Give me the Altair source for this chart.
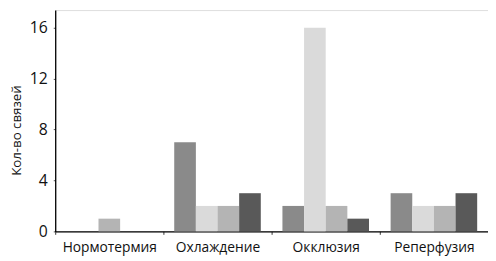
import altair as alt
import pandas as pd

groups = ["Нормотермия", "Охлаждение", "Окклюзия", "Реперфузия"]
series = ["s1", "s2", "s3", "s4"]
s1 = [0, 7, 2, 3]
s2 = [0, 2, 16, 2]
s3 = [1, 2, 2, 2]
s4 = [0, 3, 1, 3]
colors = ["#8a8a8a", "#dadada", "#b4b4b4", "#595959"]
y_ticks = [0, 2, 4, 6, 8, 10, 12, 14, 16]

rows = []
for i, g in enumerate(groups):
    for name, vals in zip(series, [s1, s2, s3, s4]):
        rows.append({"group": g, "series": name, "value": vals[i]})
df = pd.DataFrame(rows)

main = df[df["group"] != groups[0]]
single = df[(df["group"] == groups[0]) & (df["value"] > 0)]

FONT = "Open Sans"

x_enc = alt.X(
    "group:N",
    sort=groups,
    scale=alt.Scale(domain=groups, paddingInner=0, paddingOuter=0),
    axis=alt.Axis(
        title=None,
        labelAngle=0,
        labelFont=FONT,
        labelFontSize=14,
        labelColor="#111",
        labelPadding=6,
        tickBand="extent",
        tickSize=3,
        tickColor="#333",
        domainColor="#000",
        domainWidth=1.3,
    ),
)
y_enc = alt.Y(
    "value:Q",
    scale=alt.Scale(domain=[0, 17.39], nice=False, zero=True),
    axis=alt.Axis(
        title="Кол-во связей",
        values=y_ticks,
        labelExpr="datum.value % 4 == 0 ? datum.label : ''",
        labelFont=FONT,
        labelFontSize=16,
        labelColor="#111",
        labelPadding=6,
        tickSize=2,
        tickColor="#555",
        domainColor="#000",
        domainWidth=1.3,
        grid=False,
        titleFont=FONT,
        titleFontSize=13.5,
        titleFontWeight="normal",
        titleColor="#111",
        titleX=-46,
        titleY=122,
        titleAngle=-90,
        titleAlign="center",
        titleBaseline="top",
    ),
)

bars = alt.Chart(main).mark_bar().encode(
    x=x_enc,
    xOffset=alt.XOffset("series:N", sort=series,
                        scale=alt.Scale(domain=series, paddingInner=0, paddingOuter=0.5)),
    y=y_enc,
    color=alt.Color("series:N", scale=alt.Scale(domain=series, range=colors), legend=None),
)

single_bar = alt.Chart(single).mark_bar(size=22).encode(
    x=alt.X("group:N", sort=groups, scale=alt.Scale(domain=groups)),
    y=alt.Y("value:Q"),
    color=alt.Color("series:N", legend=None),
)

chart = (
    alt.layer(bars, single_bar)
    .properties(
        width=440,
        height=225,
        padding={"left": 48, "top": 0, "right": 0, "bottom": 28},
        autosize=alt.AutoSizeParams(type="none"),
    )
    .configure_view(stroke=None)
    .configure(background="white")
)

chart.save("out.html", embed_options={"renderer": "svg", "actions": False})
